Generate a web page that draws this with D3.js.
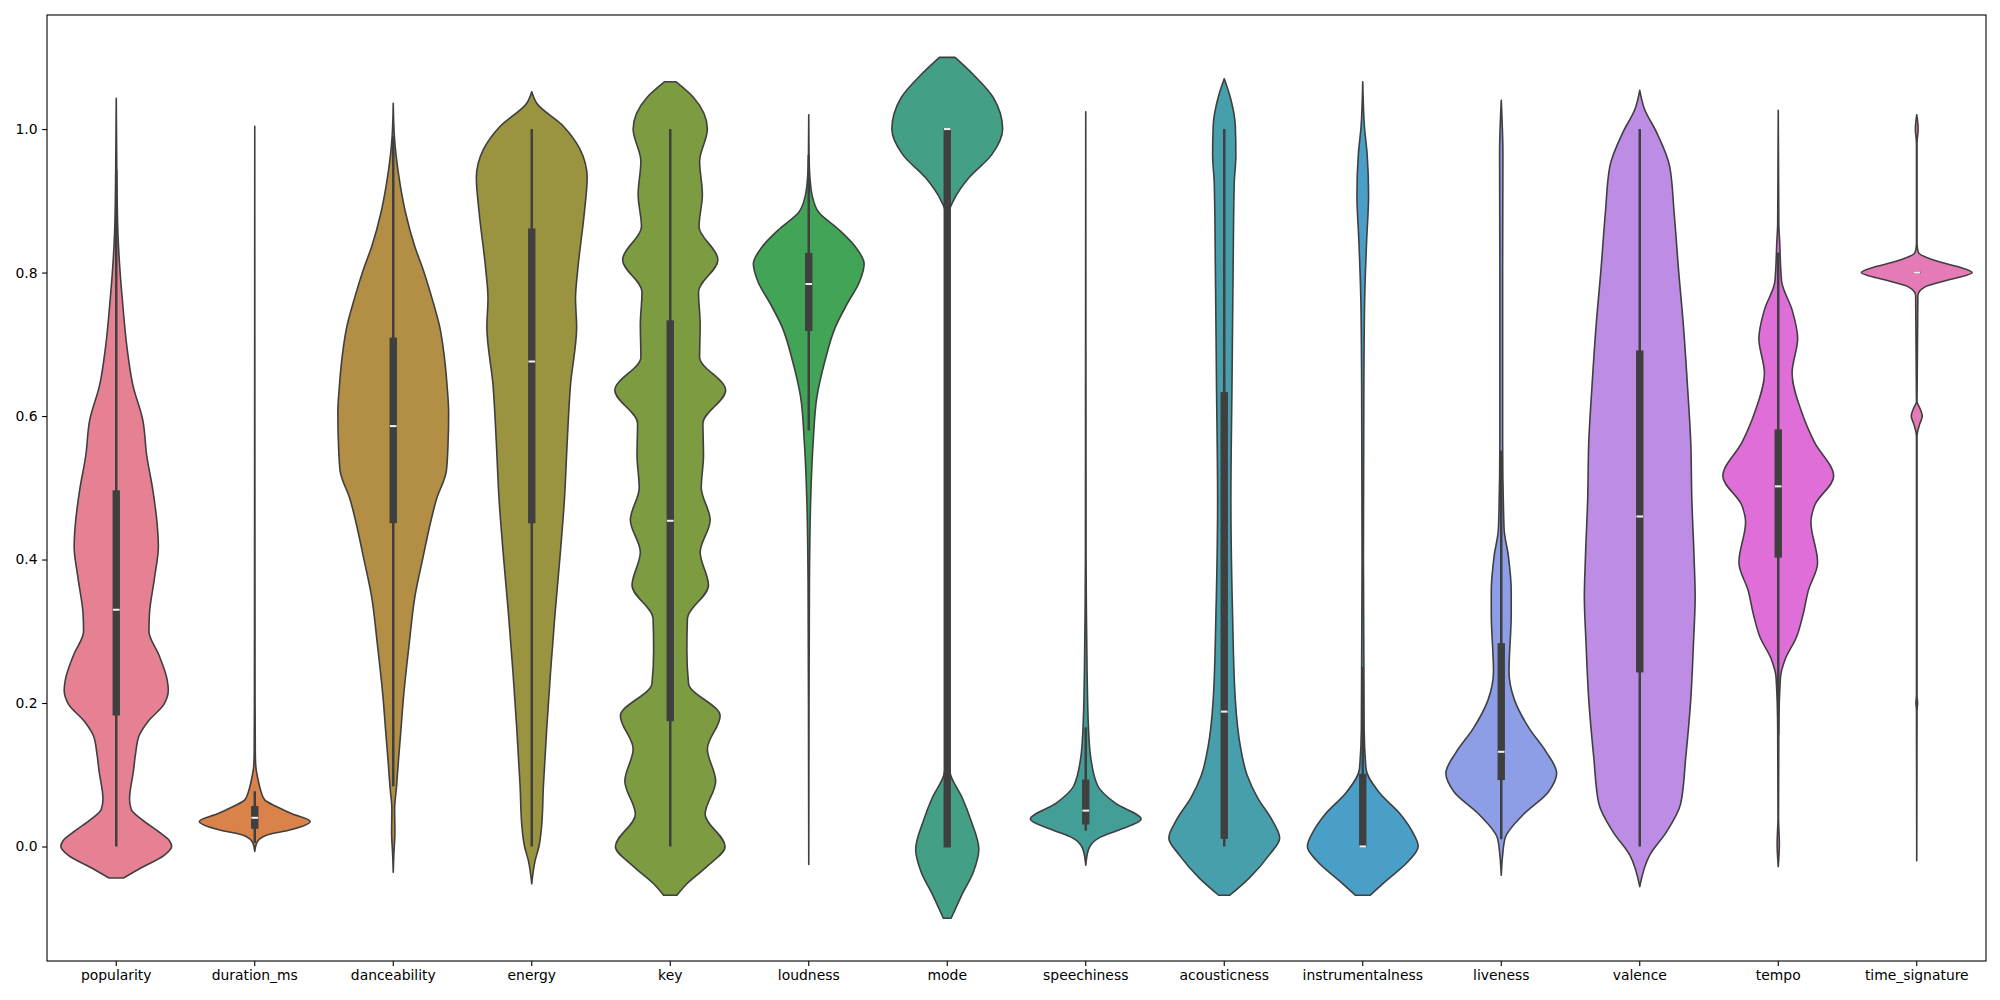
<!DOCTYPE html>
<html>
<head>
<meta charset="utf-8">
<script src="https://cdn.jsdelivr.net/npm/d3@7"></script>
<style>
  body { margin: 0; background: #fff; }
  text { font-family: "DejaVu Sans", sans-serif; }
</style>
</head>
<body>
<svg width="2000" height="1000"></svg>
<script>
// column names along the x axis
var categories = ["popularity", "duration_ms", "danceability", "energy", "key", "loudness", "mode",
  "speechiness", "acousticness", "instrumentalness", "liveness", "valence", "tempo", "time_signature"];

// y axis ticks
var yTicks = [0.0, 0.2, 0.4, 0.6, 0.8, 1.0];

// violin outlines: [value, relative half width]
var popularity = [[1.043,0],[0.94,0.01],[0.855,0.03],[0.8,0.07],[0.762,0.11],[0.692,0.2],[0.643,0.3],[0.594,0.48],[0.545,0.55],[0.497,0.66],[0.448,0.74],[0.418,0.76],[0.374,0.69],[0.325,0.6],[0.3,0.59],[0.267,0.77],[0.232,0.92],[0.218,0.94],[0.198,0.86],[0.174,0.57],[0.154,0.41],[0.13,0.35],[0.105,0.31],[0.066,0.24],[0.052,0.27],[0.037,0.47],[0.022,0.74],[0.008,0.96],[0,1],[-0.012,0.87],[-0.031,0.42],[-0.044,0.13]];
var durationMs = [[1.004,0],[0.5,0.003],[0.2,0.006],[0.13,0.01],[0.111,0.02],[0.093,0.06],[0.075,0.12],[0.065,0.18],[0.056,0.38],[0.046,0.66],[0.035,1.0],[0.023,0.63],[0.016,0.22],[0.01,0.08],[0.004,0.03],[-0.007,0]];
var danceability = [[1.036,0],[0.99,0.02],[0.964,0.05],[0.92,0.13],[0.884,0.22],[0.836,0.39],[0.804,0.54],[0.764,0.7],[0.724,0.84],[0.684,0.92],[0.644,0.97],[0.604,1.0],[0.564,0.99],[0.524,0.96],[0.484,0.78],[0.444,0.65],[0.404,0.54],[0.348,0.39],[0.284,0.29],[0.204,0.18],[0.164,0.14],[0.116,0.09],[0.084,0.06],[0.052,0.025],[0.02,0.03],[-0.012,0.01],[-0.036,0]];
var energy = [[1.052,0],[1.036,0.09],[1.004,0.57],[0.972,0.87],[0.932,1.0],[0.884,0.95],[0.804,0.83],[0.764,0.79],[0.724,0.81],[0.644,0.7],[0.564,0.64],[0.484,0.59],[0.404,0.51],[0.324,0.42],[0.244,0.34],[0.164,0.27],[0.084,0.21],[0.03,0.18],[0.0,0.13],[-0.02,0.06],[-0.052,0]];
var key = [[1.066,0.1],[1.044,0.42],[1.0,0.67],[0.955,0.53],[0.909,0.58],[0.864,0.52],[0.818,0.86],[0.773,0.51],[0.727,0.54],[0.682,0.53],[0.636,1.0],[0.59,0.59],[0.545,0.6],[0.5,0.56],[0.455,0.72],[0.41,0.54],[0.364,0.69],[0.318,0.31],[0.273,0.3],[0.227,0.33],[0.182,0.9],[0.136,0.67],[0.091,0.82],[0.045,0.63],[0.0,0.99],[-0.028,0.66],[-0.052,0.3],[-0.068,0.12]];
var loudness = [[1.02,0],[0.964,0.005],[0.924,0.03],[0.908,0.06],[0.884,0.18],[0.86,0.54],[0.836,0.84],[0.812,1.0],[0.788,0.92],[0.756,0.69],[0.724,0.48],[0.676,0.29],[0.628,0.15],[0.564,0.08],[0.484,0.035],[0.364,0.012],[0.2,0.005],[-0.025,0]];
var mode = [[1.1,0.14],[1.076,0.47],[1.044,0.83],[1.0,1.0],[0.964,0.8],[0.932,0.39],[0.9,0.11],[0.884,0.03],[0.844,0.003],[0.5,0.0],[0.16,0.003],[0.124,0.02],[0.1,0.06],[0.068,0.27],[0.036,0.43],[-0.004,0.57],[-0.036,0.47],[-0.068,0.26],[-0.1,0.07]];
var speechiness = [[1.024,0],[0.6,0.004],[0.404,0.006],[0.324,0.012],[0.244,0.024],[0.164,0.05],[0.124,0.09],[0.084,0.22],[0.06,0.54],[0.038,1.0],[0.024,0.63],[0.012,0.24],[-0.004,0.05],[-0.026,0]];
var acousticness = [[1.07,0],[1.044,0.11],[1.004,0.2],[0.964,0.21],[0.924,0.18],[0.804,0.16],[0.644,0.14],[0.484,0.12],[0.324,0.15],[0.204,0.2],[0.14,0.29],[0.1,0.41],[0.068,0.6],[0.036,0.87],[0.012,1.0],[-0.012,0.81],[-0.044,0.45],[-0.068,0.1]];
var instrumentalness = [[1.066,0],[1.004,0.03],[0.964,0.08],[0.908,0.105],[0.844,0.07],[0.764,0.035],[0.644,0.02],[0.4,0.012],[0.164,0.025],[0.108,0.06],[0.076,0.29],[0.044,0.69],[0.02,0.9],[0.0,1.0],[-0.02,0.83],[-0.048,0.42],[-0.068,0.13]];
var liveness = [[1.04,0],[0.964,0.03],[0.804,0.025],[0.564,0.025],[0.444,0.05],[0.404,0.13],[0.356,0.18],[0.324,0.18],[0.244,0.14],[0.204,0.24],[0.164,0.51],[0.132,0.81],[0.102,1.0],[0.076,0.85],[0.044,0.39],[0.012,0.07],[-0.012,0.025],[-0.04,0]];
var valence = [[1.054,0],[1.028,0.085],[0.996,0.3],[0.948,0.54],[0.884,0.62],[0.804,0.7],[0.724,0.79],[0.644,0.86],[0.564,0.92],[0.484,0.94],[0.404,0.98],[0.348,1.0],[0.284,0.97],[0.204,0.92],[0.124,0.83],[0.06,0.74],[0.02,0.48],[-0.012,0.18],[-0.056,0]];
var tempo = [[1.026,0],[0.868,0.01],[0.844,0.025],[0.788,0.06],[0.748,0.25],[0.708,0.35],[0.66,0.25],[0.604,0.43],[0.564,0.65],[0.516,1.0],[0.476,0.66],[0.452,0.59],[0.396,0.71],[0.356,0.54],[0.324,0.45],[0.292,0.33],[0.26,0.12],[0.236,0.04],[0.164,0.01],[0.04,0.005],[0.004,0.02],[-0.028,0]];
var timeSignature = [[1.02,0],[1.0,0.025],[0.98,0.005],[0.84,0.005],[0.828,0.03],[0.816,0.36],[0.808,0.75],[0.8,1.0],[0.788,0.48],[0.78,0.15],[0.768,0.02],[0.62,0.005],[0.612,0.05],[0.6,0.1],[0.588,0.05],[0.572,0.005],[0.21,0.005],[0.2,0.015],[0.19,0.005],[-0.02,0]];

var profiles = [popularity, durationMs, danceability, energy, key, loudness, mode,
  speechiness, acousticness, instrumentalness, liveness, valence, tempo, timeSignature];

// inner box stats per column
var whiskerLow  = [0.0,   0.005, 0.084, 0.0,   0.0,   0.58,  0, 0.022, 0.0,   0,   0.01,  0,     0.156, 0.8];
var q1          = [0.184, 0.026, 0.452, 0.452, 0.176, 0.72,  0, 0.032, 0.012, 0,   0.094, 0.244, 0.404, 0.8];
var median      = [0.33,  0.04,  0.586, 0.676, 0.454, 0.784, 1, 0.05,  0.188, 0,   0.132, 0.46,  0.502, 0.8];
var q3          = [0.495, 0.055, 0.708, 0.86,  0.732, 0.826, 1, 0.092, 0.632, 0.1, 0.282, 0.69,  0.58,  0.8];
var whiskerHigh = [0.943, 0.077, 0.99,  1.0,   1.0,   0.964, 1, 0.166, 1.0,   0.25,0.552, 1.0,   0.828, 0.8];

// husl palette, desaturated like seaborn does
var palette = ["#e68193", "#d9834a", "#b38e45", "#9a9441", "#7d9b40", "#42a456", "#43a086",
  "#449e98", "#469fab", "#4a9fc8", "#8e9ee6", "#bd8ce4", "#e06ed8", "#e47ab6"];

var svg = d3.select("svg");
var plotLeft = 47, plotRight = 1986, plotTop = 15, plotBottom = 961;

var x = d3.scaleBand()
    .domain(categories)
    .range([plotLeft, plotRight])
    .padding(0);

var y = d3.scaleLinear()
    .domain([-0.1596, 1.159])
    .range([plotBottom, plotTop]);

// violins take 80% of the band
var w = d3.scaleLinear()
    .domain([0, 1])
    .range([0, x.bandwidth() * 0.4]);

var ink = "#3f3f3f";

var g = svg.append("g");

categories.forEach(function(c, i) {
  var cx = x(c) + x.bandwidth() / 2;

  var area = d3.area()
      .curve(d3.curveMonotoneY)
      .x0(function(d) { return cx - w(d[1]); })
      .x1(function(d) { return cx + w(d[1]); })
      .y(function(d) { return y(d[0]); });

  g.append("path")
      .datum(profiles[i])
      .attr("d", area)
      .attr("fill", palette[i])
      .attr("stroke", ink)
      .attr("stroke-width", 1.6)
      .attr("stroke-linejoin", "round");

  // whisker
  g.append("line")
      .attr("x1", cx).attr("x2", cx)
      .attr("y1", y(whiskerLow[i])).attr("y2", y(whiskerHigh[i]))
      .attr("stroke", ink)
      .attr("stroke-width", 2.5);

  // box
  g.append("rect")
      .attr("x", cx - 3.7)
      .attr("width", 7.4)
      .attr("y", y(q3[i]) - 1)
      .attr("height", Math.max(2, y(q1[i]) - y(q3[i]) + 2))
      .attr("fill", ink);

  // median
  g.append("rect")
      .attr("x", cx - 3.3)
      .attr("width", 6.6)
      .attr("y", y(median[i]) - 1)
      .attr("height", 2)
      .attr("fill", "#f0f0f0");
});

// axes
var xAxis = d3.axisBottom(x).tickSize(4.9).tickPadding(4.5);
var yAxis = d3.axisLeft(y).tickValues(yTicks).tickFormat(d3.format(".1f")).tickSize(4.9).tickPadding(4.5);

svg.append("g")
    .attr("transform", "translate(0," + plotBottom + ")")
    .call(xAxis)
    .call(function(s) { s.select(".domain").remove(); });

svg.append("g")
    .attr("transform", "translate(" + plotLeft + ",0)")
    .call(yAxis)
    .call(function(s) { s.select(".domain").remove(); });

svg.selectAll(".tick text")
    .attr("font-size", "13.9px")
    .attr("font-family", "DejaVu Sans")
    .attr("fill", "#000");
svg.selectAll(".tick line")
    .attr("stroke", "#000")
    .attr("stroke-width", 1.1);

// frame
svg.append("rect")
    .attr("x", plotLeft).attr("y", plotTop)
    .attr("width", plotRight - plotLeft).attr("height", plotBottom - plotTop)
    .attr("fill", "none")
    .attr("stroke", "#000")
    .attr("stroke-width", 1.1);
</script>
</body>
</html>
